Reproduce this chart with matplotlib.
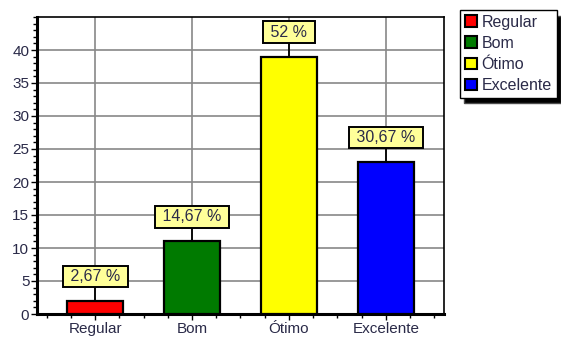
import matplotlib
matplotlib.use("Agg")
import matplotlib.pyplot as plt
from matplotlib.patches import Patch
from matplotlib.ticker import MultipleLocator

categories = ["Regular", "Bom", "Ótimo", "Excelente"]
values = [2, 11, 39, 23]
labels = ["2,67 %", "14,67 %", "52 %", "30,67 %"]
colors = ["#ff0000", "#007a00", "#ffff00", "#0000ff"]

plt.rcParams['font.family'] = ['Liberation Sans', 'DejaVu Sans']
txtcol = '#2a2a48'

fig = plt.figure(figsize=(5.61, 3.41), dpi=100)
ax = fig.add_axes([37/561, 1-314/341, (444-37)/561, (314-17)/341])

x = list(range(len(categories)))
ax.bar(x, values, width=0.58, color=colors, edgecolor='black', linewidth=1.6, zorder=3)

for i, (v, lab) in enumerate(zip(values, labels)):
    ax.plot([i, i], [v, v + 2.0], color='black', lw=1.3, zorder=3)
    ax.text(i, v + 3.7, " " + lab + " ", ha='center', va='center', fontsize=11.5, color=txtcol,
            zorder=4, clip_on=False,
            bbox=dict(boxstyle='square,pad=0.2', facecolor='#ffff99', edgecolor='black', linewidth=1.4))

ax.set_xlim(-0.6, 3.6)
ax.set_ylim(0, 45)
ax.set_xticks(x)
ax.set_xticklabels(categories)
ax.xaxis.set_minor_locator(MultipleLocator(0.25))
ax.yaxis.set_major_locator(MultipleLocator(5))
ax.yaxis.set_minor_locator(MultipleLocator(1))
ax.set_yticks(range(0, 41, 5))
ax.tick_params(axis='both', which='major', labelsize=11, labelcolor=txtcol, direction='out', length=4, width=1, pad=1.5)
ax.tick_params(axis='both', which='minor', direction='out', length=3, width=1)
ax.grid(True, which='major', color='#888888', linewidth=1.2, zorder=0)
ax.set_axisbelow(True)

for side in ['left', 'bottom']:
    ax.spines[side].set_linewidth(2.2)
for side in ['top', 'right']:
    ax.spines[side].set_linewidth(1.2)

handles = [Patch(facecolor=c, edgecolor='black', linewidth=1.5, label=l) for c, l in zip(colors, categories)]
leg = fig.legend(handles=handles, loc='upper left', bbox_to_anchor=(460/561, 1-10/341),
                 frameon=True, fancybox=False, fontsize=11.5, handlelength=0.75, handleheight=0.75,
                 handletextpad=0.3, labelspacing=0.38, borderpad=0.3, borderaxespad=0,
                 shadow={'ox': 3, 'oy': -4, 'facecolor': 'black', 'alpha': 1})
leg.get_frame().set_edgecolor('black')
leg.get_frame().set_linewidth(1.0)
for t in leg.get_texts():
    t.set_color(txtcol)

fig.savefig('out.png', dpi=100)
